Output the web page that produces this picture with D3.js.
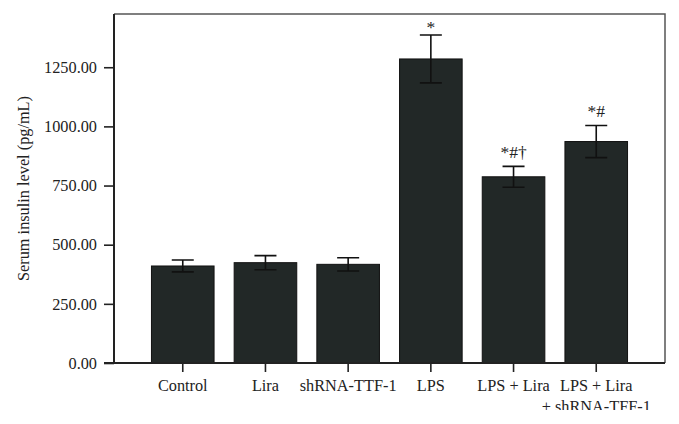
<!DOCTYPE html>
<html><head><meta charset="utf-8">
<script src="https://cdn.jsdelivr.net/npm/d3@7"></script>
<style>body{margin:0;background:#fff}svg{display:block}</style>
</head><body>
<script>
const categories = ["Control", "Lira", "shRNA-TTF-1", "LPS", "LPS + Lira", "LPS + Lira\n+ shRNA-TFF-1"];
const means = [410, 424, 417, 1285, 787, 936];
const errors = [25, 30, 28, 101, 44, 68];
const marks = ["", "", "", "*", "*#†", "*#"];
const yTicks = [0, 250, 500, 750, 1000, 1250];

const W = 679, H = 424;
const m = {left: 114, right: 14, top: 14, bottom: 61};
const svg = d3.select("body").append("svg").attr("width", W).attr("height", H);
svg.append("defs").append("clipPath").attr("id", "clip").append("rect").attr("width", W).attr("height", 410);
const root = svg.append("g").attr("clip-path", "url(#clip)");
const font = "'Liberation Serif', 'DejaVu Serif', serif";
const fs = 16.3;

const x = d3.scaleBand().domain(categories).range([m.left, W - m.right]).paddingInner(0.243).paddingOuter(0.453);
const y = d3.scaleLinear().domain([0, 1475]).range([H - m.bottom, m.top]);

// frame top/right
root.append("path")
  .attr("d", `M${m.left},${m.top}H${W - m.right}V${H - m.bottom}`)
  .attr("fill", "none").attr("stroke", "#555").attr("stroke-width", 1.5);

// bars
root.selectAll("rect.bar").data(categories).join("rect")
  .attr("class", "bar")
  .attr("x", d => x(d)).attr("width", x.bandwidth())
  .attr("y", (d, i) => y(means[i])).attr("height", (d, i) => y(0) - y(means[i]))
  .attr("fill", "#222827").attr("stroke", "#111").attr("stroke-width", 1);

// error bars
const cap = 11;
const eb = root.append("g").attr("stroke", "#111").attr("stroke-width", 1.6).attr("fill", "none");
categories.forEach((c, i) => {
  const cx = x(c) + x.bandwidth() / 2;
  const t = y(means[i] + errors[i]), b = y(means[i] - errors[i]);
  eb.append("path").attr("d", `M${cx},${t}V${b}M${cx - cap},${t}H${cx + cap}M${cx - cap},${b}H${cx + cap}`);
});

// significance marks
categories.forEach((c, i) => {
  if (!marks[i]) return;
  const cx = x(c) + x.bandwidth() / 2;
  const t = y(means[i] + errors[i]);
  root.append("text").attr("x", cx).attr("y", t - (marks[i].length > 1 ? 8 : 2))
    .attr("text-anchor", "middle").attr("font-family", font).attr("font-size", 17.5).attr("fill", "#222")
    .text(marks[i]);
});

// y axis
const ya = root.append("g").attr("transform", `translate(${m.left},0)`)
  .call(d3.axisLeft(y).tickValues(yTicks).tickFormat(d3.format(".2f")).tickSize(10).tickPadding(7));
ya.select(".domain").attr("d", `M0,${m.top}V${y(0)}`).attr("stroke", "#222").attr("stroke-width", 2);
ya.selectAll(".tick line").attr("stroke", "#222").attr("stroke-width", 1.6);
ya.selectAll(".tick text").attr("font-family", font).attr("font-size", fs).attr("fill", "#222");

// x axis
const xa = root.append("g").attr("transform", `translate(0,${y(0)})`)
  .call(d3.axisBottom(x).tickSize(9).tickSizeOuter(0).tickFormat(""));
xa.select(".domain").attr("d", `M${m.left - 10},0H${W - m.right}`).attr("stroke", "#222").attr("stroke-width", 2);
xa.selectAll(".tick line").attr("stroke", "#222").attr("stroke-width", 1.6);
xa.selectAll(".tick").each(function(d) {
  const lines = d.split("\n");
  const t = d3.select(this).append("text").attr("font-family", font).attr("font-size", fs)
    .attr("fill", "#222").attr("text-anchor", "middle").attr("y", 28);
  lines.forEach((l, k) => t.append("tspan").attr("x", 0).attr("dy", k === 0 ? 0 : 21).text(l));
});

// y title
root.append("text").attr("transform", `translate(29,${(y(0) + m.top) / 2 + 0}) rotate(-90)`)
  .attr("text-anchor", "middle").attr("font-family", font).attr("font-size", fs).attr("fill", "#222")
  .text("Serum insulin level (pg/mL)");
</script>
</body></html>
